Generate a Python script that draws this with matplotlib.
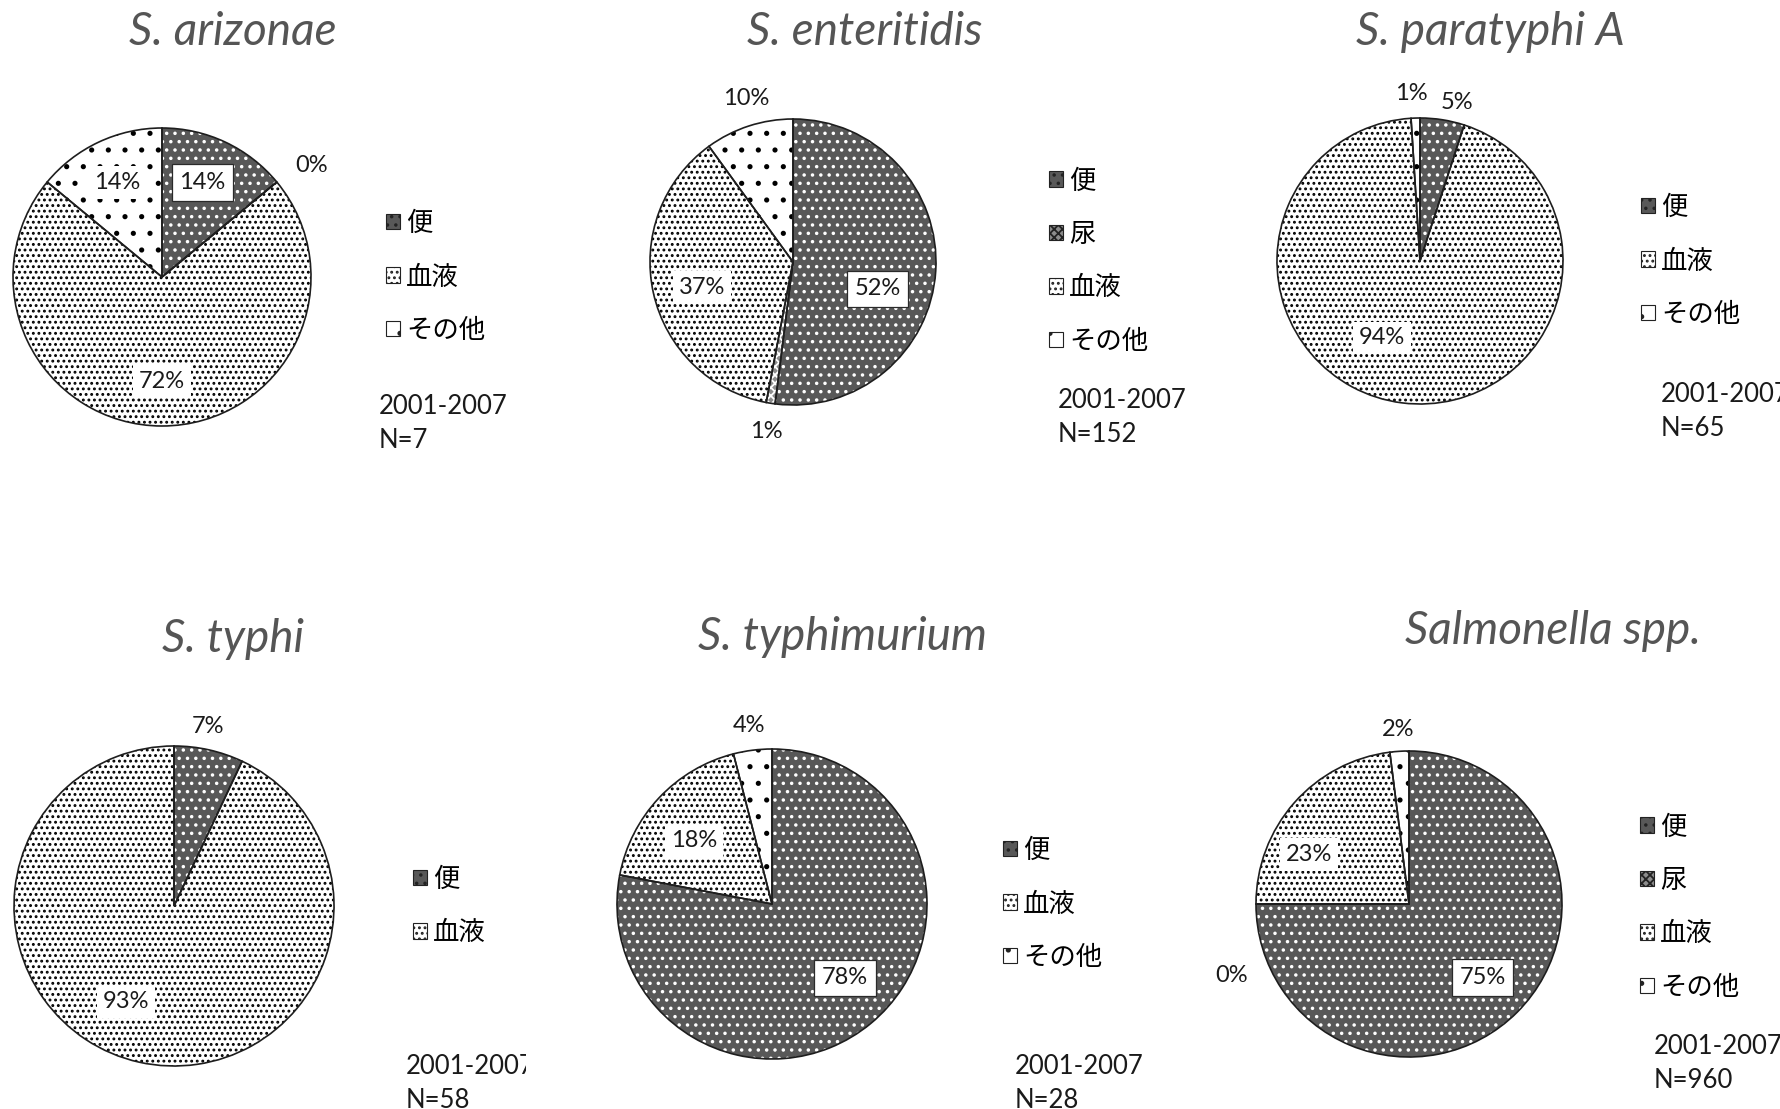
import matplotlib
matplotlib.use("Agg")
import matplotlib.pyplot as plt
from matplotlib.patches import Patch
import numpy as np

# ---------------- data ----------------
categories = ["便", "尿", "血液", "その他"]
titles = ["S. arizonae", "S. enteritidis", "S. paratyphi A",
          "S. typhi", "S. typhimurium", "Salmonella spp."]
# percentage per category (None = category not shown in that chart)
arizonae = [14, 0, 72, 14]
enteritidis = [52, 1, 37, 10]
paratyphi_a = [5, None, 94, 1]
typhi = [7, None, 93, None]
typhimurium = [78, None, 18, 4]
salmonella_spp = [75, 0, 23, 2]
series = [arizonae, enteritidis, paratyphi_a, typhi, typhimurium, salmonella_spp]
legend_entries = [
    ["便", "血液", "その他"],
    ["便", "尿", "血液", "その他"],
    ["便", "血液", "その他"],
    ["便", "血液"],
    ["便", "血液", "その他"],
    ["便", "尿", "血液", "その他"],
]
period = "2001-2007"
n_counts = [7, 152, 65, 58, 28, 960]

# ---------------- style / layout ----------------
W, H, DPI = 1780, 1109, 100
plt.rcParams["hatch.linewidth"] = 1.3
fig = plt.figure(figsize=(W / DPI, H / DPI), dpi=DPI)
fig.patch.set_facecolor("white")

LATIN = ["Lato", "DejaVu Sans"]
CJK = ["Noto Sans CJK JP", "DejaVu Sans"]

cat_style = {
    "便": dict(face="#585858", hatch="..", hc="white"),
    "尿": dict(face="#8c8c8c", hatch="xxxx", hc="white"),
    "血液": dict(face="white", hatch="...", hc="black"),
    "その他": dict(face="white", hatch=".", hc="black"),
}

# pie centre x, centre y, radius (pixels)
pies = [(162, 277, 149), (793, 262, 143), (1420, 261, 143),
        (174, 906, 160), (772, 904, 155), (1409, 904, 153)]
title_pos = [(233, 32), (865, 32), (1490, 32), (233, 639), (842, 637), (1553, 631)]
legend_pos = [(386, 277), (1049, 261), (1641, 261), (413, 906), (1003, 904), (1640, 907)]
note_pos = [(379, 407), (1058, 400), (1661, 394), (406, 1066), (1015, 1066), (1654, 1047)]
panel_right = [560, 1200, 1780, 526, 1200, 1780]
# label placement: (radial distance in radii, clockwise angle offset in deg)
label_place = [
    [(0.69, -2), (1.25, 3), (0.70, 0), (0.70, 0)],
    [(0.62, 14), (1.20, 0), (0.66, -3), (1.19, 2)],
    [(1.14, 4), (0.60, 19), (1.17, -1)],
    [(1.14, -2), (0.67, 14)],
    [(0.67, -5), (0.65, -4), (1.16, 0)],
    [(0.68, 0), (1.25, -22), (0.73, -15), (1.14, 0)],
]

TITLE_PT = 33
LABEL_PT = 17
LEG_PT = 19
NOTE_PT = 18.5
L = 1.6  # axes half-range in radii

for i in range(6):
    cx, cy, r = pies[i]
    vals = [v for v in series[i] if v is not None]
    cats = [c for c, v in zip(categories, series[i]) if v is not None]

    S = 2 * r * L
    ax = fig.add_axes([(cx - S / 2) / W, 1 - (cy + S / 2) / H, S / W, S / H])

    wedges, _ = ax.pie(vals, startangle=90, counterclock=False, radius=1,
                       wedgeprops=dict(linewidth=0))
    for w, c in zip(wedges, cats):
        st = cat_style[c]
        w.set_facecolor(st["face"])
        w.set_hatch(st["hatch"])
        w.set_edgecolor(st["hc"])
        w.set_linewidth(0)
    ax.pie(vals, startangle=90, counterclock=False, radius=1,
           wedgeprops=dict(fill=False, edgecolor="#1e1e1e", linewidth=1.2))
    ax.set_xlim(-L, L)
    ax.set_ylim(-L, L)
    ax.set_aspect("equal")
    ax.axis("off")

    # value labels
    for w, c, v, (d, off) in zip(wedges, cats, vals, label_place[i]):
        mid = np.deg2rad((w.theta1 + w.theta2) / 2 - off)
        x, y = d * np.cos(mid), d * np.sin(mid)
        inside = d < 1
        if inside and c in ("便", "尿"):
            bbox = dict(boxstyle="square,pad=0.33", facecolor="white",
                        edgecolor="#2a2a2a", linewidth=0.9)
        elif inside:
            bbox = dict(boxstyle="square,pad=0.25", facecolor="white",
                        edgecolor="none")
        else:
            bbox = None
        ax.text(x, y, f"{v}%", ha="center", va="center", fontsize=LABEL_PT,
                family=LATIN, color="#1a1a1a", bbox=bbox, clip_on=False)

    # title
    tx, ty = title_pos[i]
    fig.text(tx / W, 1 - ty / H, titles[i], ha="center", va="center",
             fontsize=TITLE_PT, family=LATIN, style="italic", color="#555555")

    # legend
    handles = [Patch(facecolor=cat_style[c]["face"], edgecolor="#222222",
                     hatch=cat_style[c]["hatch"], linewidth=0.8)
               for c in legend_entries[i]]
    lx, ly = legend_pos[i]
    ax.legend(handles, legend_entries[i], loc="center left",
              bbox_to_anchor=(lx / W, 1 - ly / H), bbox_transform=fig.transFigure,
              frameon=False, prop=dict(family=CJK, size=LEG_PT),
              handlelength=0.52, handleheight=0.52, handletextpad=0.25,
              labelspacing=1.0, borderpad=0, borderaxespad=0)

    # panel (for clipping of the period note)
    pax = fig.add_axes([0, 0, panel_right[i] / W, 1])
    pax.set_xlim(0, panel_right[i])
    pax.set_ylim(H, 0)
    pax.axis("off")
    pax.patch.set_alpha(0)
    nx, ny = note_pos[i]
    pax.text(nx, ny, period, ha="left", va="center", fontsize=NOTE_PT,
             family=LATIN, color="#1a1a1a", clip_on=True)
    pax.text(nx, ny + 34, f"N={n_counts[i]}", ha="left", va="center",
             fontsize=NOTE_PT, family=LATIN, color="#1a1a1a", clip_on=True)

fig.savefig("out.png", dpi=DPI, facecolor="white")
